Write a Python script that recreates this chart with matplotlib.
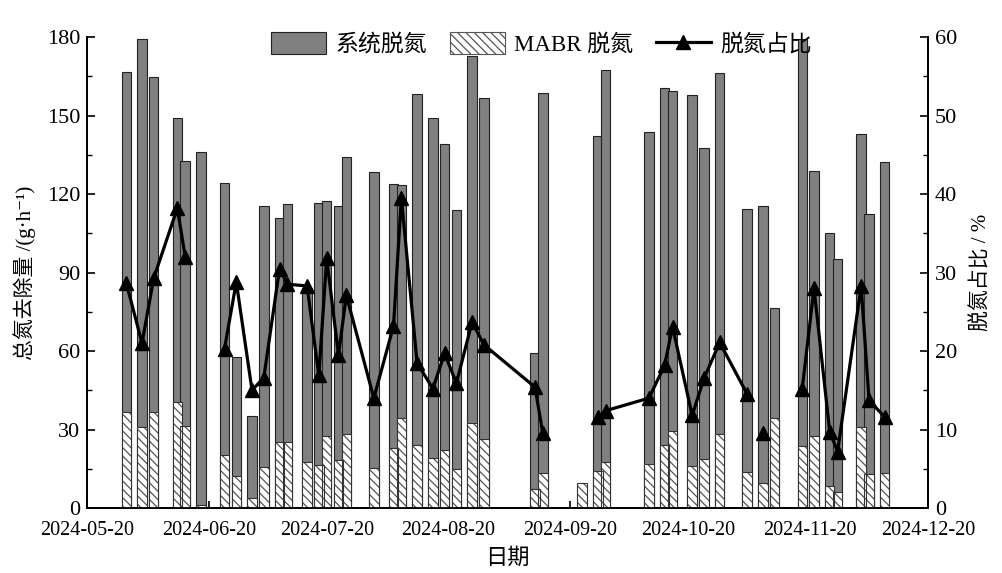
import matplotlib
matplotlib.use("Agg")
import matplotlib.pyplot as plt
import matplotlib.dates as mdates
from matplotlib.ticker import MultipleLocator
from matplotlib.lines import Line2D
from matplotlib.patches import Patch
import numpy as np
import pandas as pd

# sampling dates
dates = ["2024-05-30", "2024-06-03", "2024-06-06", "2024-06-12", "2024-06-14", "2024-06-18",
         "2024-06-24", "2024-06-27", "2024-07-01", "2024-07-04", "2024-07-08", "2024-07-10",
         "2024-07-15", "2024-07-18", "2024-07-20", "2024-07-23", "2024-07-25", "2024-08-01",
         "2024-08-06", "2024-08-08", "2024-08-12", "2024-08-16", "2024-08-19", "2024-08-22",
         "2024-08-26", "2024-08-29", "2024-09-11", "2024-09-13", "2024-09-23", "2024-09-27",
         "2024-09-29", "2024-10-10", "2024-10-14", "2024-10-16", "2024-10-21", "2024-10-24",
         "2024-10-28", "2024-11-04", "2024-11-08", "2024-11-11", "2024-11-18", "2024-11-21",
         "2024-11-25", "2024-11-27", "2024-12-03", "2024-12-05", "2024-12-09"]

# 系统脱氮 (g/h)
system_n = [166.5, 179.2, 164.7, 148.9, 132.7, 136.0,
            124.3, 57.6, 35.2, 115.5, 110.9, 116.2,
            84.0, 116.7, 117.3, 115.5, 134.2, 128.3,
            123.8, 123.4, 158.1, 148.9, 139.1, 113.9,
            172.7, 156.7, 59.4, 158.6, None, 142.3,
            167.4, 143.7, 160.7, 159.5, 157.8, 137.4,
            166.1, 114.1, 115.5, 76.5, 179.2, 128.9,
            105.2, 95.3, 142.8, 112.3, 132.3]

# MABR 脱氮 (g/h)
mabr_n = [36.8, 31.1, 36.8, 40.6, 31.5, 1.0,
          20.3, 12.4, 3.9, 15.8, 25.1, 25.3,
          17.7, 16.4, 27.6, 18.3, 28.1, 15.2,
          22.8, 34.3, 24.1, 19.0, 22.2, 14.9,
          32.4, 26.4, 7.3, 13.3, 9.4, 14.3,
          17.7, 17.0, 24.1, 29.4, 16.2, 18.7,
          28.3, 13.6, 9.4, 34.5, 23.8, 27.6,
          8.5, 6.0, 30.8, 12.9, 13.3]

# 脱氮占比 (%)
ratio = [28.7, 21.0, 29.3, 38.2, 32.0, None,
         20.3, 28.8, 15.0, 16.6, 30.5, 28.5,
         28.3, 16.9, 31.8, 19.5, 27.1, 14.0,
         23.2, 39.5, 18.5, 15.2, 19.7, 15.9,
         23.7, 20.8, 15.4, 9.5, None, 11.6,
         12.4, 14.0, 18.2, 23.1, 11.8, 16.5,
         21.1, 14.5, 9.6, None, 15.2, 28.0,
         9.7, 7.2, 28.3, 13.7, 11.6]

# the ratio line is not joined into these points
ratio_breaks = ["2024-11-08"]

plt.rcParams['font.family'] = ['Liberation Serif', 'Noto Sans CJK SC', 'DejaVu Sans']
plt.rcParams['hatch.linewidth'] = 0.9
plt.rcParams['axes.linewidth'] = 1.3

x = pd.to_datetime(dates)
sys_v = np.array([np.nan if v is None else v for v in system_n])
mabr_v = np.array(mabr_n, dtype=float)
r = pd.Series([np.nan if v is None else v for v in ratio], index=x)

fig = plt.figure(figsize=(10.03, 5.73), dpi=100)
ax = fig.add_axes([0.0867, 0.1134, 0.8385, 0.822])

w = 2.4
ax.bar(x, sys_v, width=w, color='#808080', edgecolor='#222222', linewidth=0.8, zorder=2)
ax.bar(x, mabr_v, width=w, color='white', edgecolor='#555555', hatch='\\\\\\\\', linewidth=0, zorder=3)
ax.bar(x, mabr_v, width=w, fill=False, edgecolor='#333333', linewidth=0.8, zorder=4)

ax.set_xlim(pd.Timestamp("2024-05-20"), pd.Timestamp("2024-12-20"))
ax.set_ylim(0, 180)
ax.xaxis.set_major_locator(mdates.MonthLocator(bymonthday=20))
ax.xaxis.set_major_formatter(mdates.DateFormatter('%Y-%m-%d'))
ax.yaxis.set_major_locator(MultipleLocator(30))
ax.yaxis.set_minor_locator(MultipleLocator(15))
ax.tick_params(axis='y', which='major', direction='in', length=6, width=1.2, labelsize=16, pad=5)
ax.tick_params(axis='y', which='minor', direction='in', length=3.5, width=1.0)
ax.tick_params(axis='x', direction='in', length=5, width=1.2, labelsize=14.5, pad=9)
ax.set_xlabel('日期', fontsize=16, labelpad=6)
ax.set_ylabel('总氮去除量 /(g·h⁻¹)', fontsize=15, labelpad=8)
ax.spines['top'].set_visible(False)

ax2 = ax.twinx()
seg = (r.isna() | r.index.isin(pd.to_datetime(ratio_breaks))).cumsum()
ok = r.notna()
for _, part in r[ok].groupby(seg[ok]):
    ax2.plot(part.index, part.values, '-', color='black', lw=2.3, zorder=5)
ax2.plot(r.index, r.values, '^', ms=10, color='black', linestyle='none', zorder=6)
ax2.set_ylim(0, 60)
ax2.yaxis.set_major_locator(MultipleLocator(10))
ax2.yaxis.set_minor_locator(MultipleLocator(5))
ax2.tick_params(axis='y', which='major', direction='in', length=6, width=1.2, labelsize=16, pad=5)
ax2.tick_params(axis='y', which='minor', direction='in', length=3.5, width=1.0)
ax2.set_ylabel('脱氮占比 / %', fontsize=15, labelpad=10)
ax2.spines['top'].set_visible(False)

handles = [Patch(facecolor='#808080', edgecolor='#222222', linewidth=0.8),
           Patch(facecolor='white', edgecolor='#555555', hatch='\\\\\\\\', linewidth=0.8),
           Line2D([], [], color='black', lw=2.3, marker='^', ms=10)]
ax2.legend(handles, ['系统脱氮', 'MABR 脱氮', '脱氮占比'], loc='center', bbox_to_anchor=(0.54, 0.985),
           ncol=3, frameon=False, fontsize=16.5, handlelength=2.4, handleheight=1.1,
           columnspacing=1.0, handletextpad=0.4)

fig.savefig('out.png', dpi=100)
